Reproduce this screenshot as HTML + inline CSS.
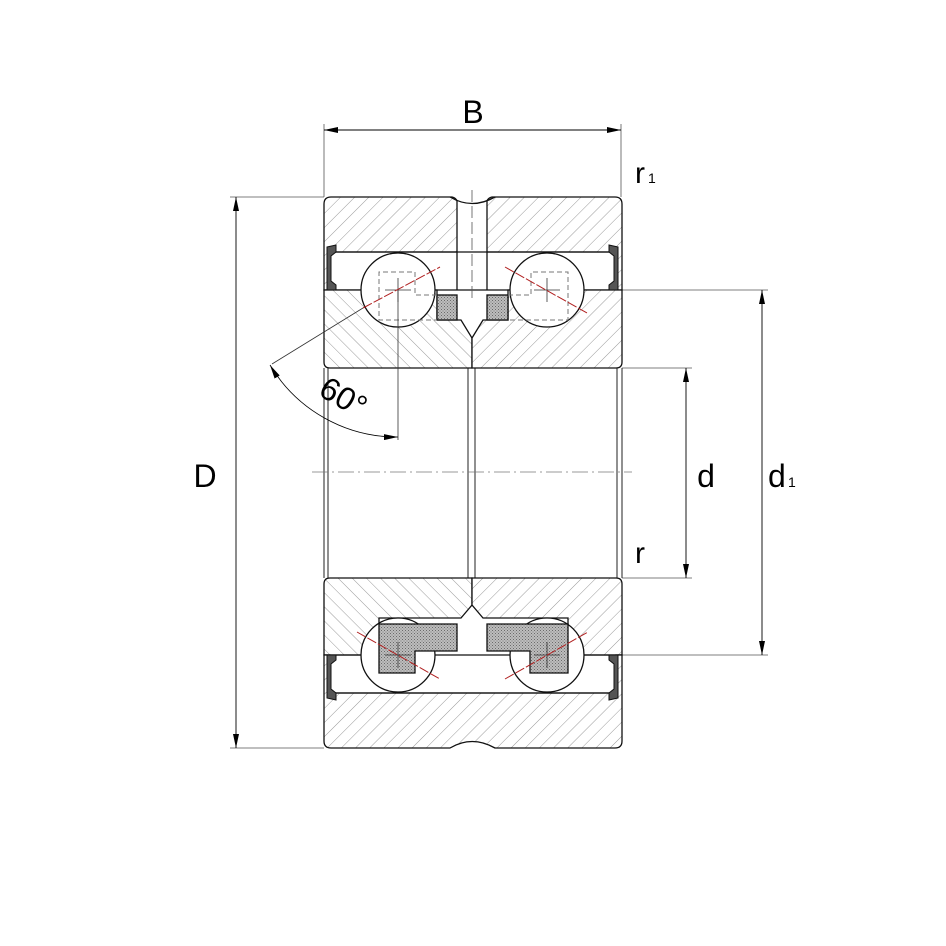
<!DOCTYPE html>
<html><head><meta charset="utf-8"><style>
html,body{margin:0;padding:0;background:#fff;}
svg{display:block;}
text{font-family:"Liberation Sans",sans-serif;fill:#000;}
</style></head><body>
<svg width="946" height="946" viewBox="0 0 946 946" xmlns="http://www.w3.org/2000/svg">
<defs>
<pattern id="hf" patternUnits="userSpaceOnUse" width="10" height="10" patternTransform="rotate(45)">
<rect width="10" height="10" fill="#fff"/><line x1="0" y1="0" x2="0" y2="10" stroke="#9a9a9a" stroke-width="1"/></pattern>
<pattern id="hb" patternUnits="userSpaceOnUse" width="10" height="10" patternTransform="rotate(-45)">
<rect width="10" height="10" fill="#fff"/><line x1="0" y1="0" x2="0" y2="10" stroke="#9a9a9a" stroke-width="1"/></pattern>
<pattern id="cg" patternUnits="userSpaceOnUse" width="3" height="3">
<rect width="3" height="3" fill="#bdbdbd"/><rect width="1" height="1" fill="#6a6a6a"/><rect x="1.5" y="1.5" width="1" height="1" fill="#777"/></pattern>
<marker id="ar" markerWidth="14" markerHeight="6" refX="14" refY="3" orient="auto-start-reverse" markerUnits="userSpaceOnUse">
<path d="M0,0 L14,3 L0,6 Z" fill="#000"/></marker>
</defs>

<g stroke="#555" stroke-width="0.8" fill="none">
<line x1="324" y1="124" x2="324" y2="197"/>
<line x1="621" y1="124" x2="621" y2="197"/>
<line x1="230" y1="197" x2="324" y2="197"/>
<line x1="230" y1="748" x2="324" y2="748"/>
<line x1="622" y1="368" x2="692" y2="368"/>
<line x1="622" y1="578" x2="692" y2="578"/>
<line x1="622" y1="290" x2="768" y2="290"/>
<line x1="622" y1="655" x2="768" y2="655"/>
</g>
<g stroke="#000" stroke-width="0.9" fill="none">
<line x1="324" y1="130" x2="621" y2="130" marker-end="url(#ar)" marker-start="url(#ar)"/>
<line x1="236" y1="197" x2="236" y2="748" marker-end="url(#ar)" marker-start="url(#ar)"/>
<line x1="686" y1="368" x2="686" y2="578" marker-end="url(#ar)" marker-start="url(#ar)"/>
<line x1="762" y1="290" x2="762" y2="655" marker-end="url(#ar)" marker-start="url(#ar)"/>
</g>

<g stroke="#222" stroke-width="1" fill="none">
<line x1="324" y1="368" x2="324" y2="578"/>
<line x1="328" y1="368" x2="328" y2="578"/>
<line x1="468" y1="368" x2="468" y2="578"/>
<line x1="475" y1="368" x2="475" y2="578"/>
<line x1="617" y1="368" x2="617" y2="578"/>
<line x1="622" y1="368" x2="622" y2="578"/>
</g>
<line x1="312" y1="472" x2="632" y2="472" stroke="#777" stroke-width="0.8" stroke-dasharray="16,4,2,4"/>

<g stroke="#111" stroke-width="1.3">
<path d="M324,204 Q324,197 331,197 L452,197 Q456,198 457,201 L457,252 L330,252 L330,290 L324,290 Z" fill="url(#hf)"/>
<path d="M487,201 Q488,198 492,197 L615,197 Q622,197 622,204 L622,290 L616,290 L616,252 L487,252 Z" fill="url(#hf)"/>
<path d="M450,197 Q472,210 495,197" fill="none"/>
<line x1="457" y1="252" x2="457" y2="290"/>
<line x1="487" y1="252" x2="487" y2="290"/>
<line x1="330" y1="290" x2="616" y2="290"/>
<path d="M324,290 L437,290 L437,320 L461,320 L472,338 L472,368 L330,368 Q324,368 324,362 Z" fill="url(#hb)"/>
<path d="M472,338 L483,320 L508,320 L508,290 L622,290 L622,362 Q622,368 616,368 L472,368 Z" fill="url(#hf)"/>
<path d="M324,584 Q324,578 330,578 L472,578 L472,605 L461,618 L379,618 L379,655 L324,655 Z" fill="url(#hb)"/>
<path d="M472,578 L616,578 Q622,578 622,584 L622,655 L568,655 L568,618 L483,618 L472,605 Z" fill="url(#hf)"/>
<line x1="324" y1="655" x2="622" y2="655"/>
<path d="M324,655 L330,655 L330,693 L616,693 L616,655 L622,655 L622,741 Q622,748 615,748 L495,748 Q472,735 450,748 L331,748 Q324,748 324,741 Z" fill="url(#hf)"/>
<circle cx="398" cy="290" r="37" fill="#fff"/>
<circle cx="547" cy="290" r="37" fill="#fff"/>
<circle cx="398" cy="655" r="37" fill="#fff"/>
<circle cx="547" cy="655" r="37" fill="#fff"/>
<rect x="437" y="295" width="20" height="25" fill="url(#cg)"/>
<rect x="487" y="295" width="21" height="25" fill="url(#cg)"/>
<path d="M379,624 L457,624 L457,651 L415,651 L415,673 L379,673 Z" fill="url(#cg)"/>
<path d="M568,624 L487,624 L487,651 L530,651 L530,673 L568,673 Z" fill="url(#cg)"/>
</g>
<g stroke="#111" stroke-width="1.3" fill="none">
<line x1="330" y1="252" x2="616" y2="252"/>
<line x1="330" y1="693" x2="616" y2="693"/>
</g>
<line x1="472" y1="190" x2="472" y2="300" stroke="#555" stroke-width="0.8" stroke-dasharray="12,4"/>
<g stroke="#777" stroke-width="1" fill="none" stroke-dasharray="5,3">
<path d="M437,295 L415,295 L415,272 L379,272 L379,320 L437,320"/>
<path d="M508,295 L531,295 L531,272 L568,272 L568,320 L508,320"/>
</g>
<g stroke="#333" stroke-width="0.8">
<line x1="385" y1="290" x2="411" y2="290"/><line x1="398" y1="278" x2="398" y2="302"/>
<line x1="534" y1="290" x2="560" y2="290"/><line x1="547" y1="278" x2="547" y2="302"/>
<line x1="385" y1="655" x2="411" y2="655"/><line x1="398" y1="642" x2="398" y2="668"/>
<line x1="534" y1="655" x2="560" y2="655"/><line x1="547" y1="642" x2="547" y2="668"/>
</g>
<g stroke="#b02020" stroke-width="1" stroke-dasharray="10,2">
<line x1="363" y1="308" x2="440" y2="267"/>
<line x1="505" y1="267" x2="587" y2="313"/>
<line x1="357" y1="632" x2="440" y2="679"/>
<line x1="505" y1="679" x2="588" y2="632"/>
</g>
<g fill="#555" stroke="#111" stroke-width="1">
<path d="M327,247 L336,245 L336,252 L331,256 L331,281 L336,285 L336,290 L327,290 Z"/>
<path d="M618,247 L609,245 L609,252 L614,256 L614,281 L609,285 L609,290 L618,290 Z"/>
<path d="M327,655 L336,655 L336,660 L331,664 L331,689 L336,693 L336,700 L327,698 Z"/>
<path d="M618,655 L609,655 L609,660 L614,664 L614,689 L609,693 L609,700 L618,698 Z"/>
</g>
<g stroke="#333" stroke-width="0.8" fill="none">
<line x1="363" y1="308" x2="272" y2="364"/>
<line x1="398" y1="290" x2="398" y2="440"/>
<path d="M270,365 A148,148 0 0 0 398,437" stroke="#000" marker-end="url(#ar)" marker-start="url(#ar)"/>
</g>
<text x="343" y="408" font-size="32" text-anchor="middle" transform="rotate(30 343 398)">60°</text>

<text x="473" y="123" font-size="32" text-anchor="middle">B</text>
<text x="635" y="183" font-size="30">r</text>
<text x="648" y="183" font-size="14">1</text>
<text x="205" y="487" font-size="32" text-anchor="middle">D</text>
<text x="706" y="487" font-size="32" text-anchor="middle">d</text>
<text x="768" y="487" font-size="32">d</text>
<text x="788" y="487" font-size="14">1</text>
<text x="635" y="563" font-size="30">r</text>
</svg>
</body></html>
